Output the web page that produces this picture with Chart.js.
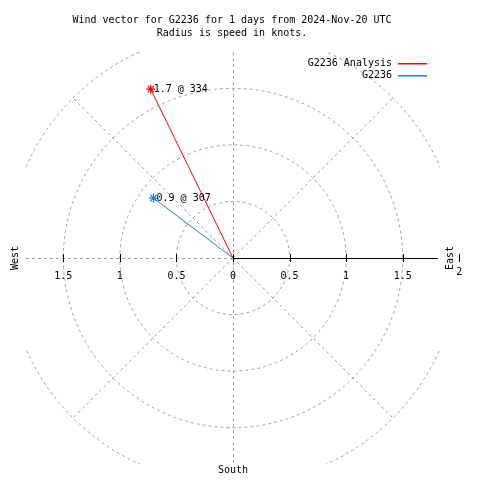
<!DOCTYPE html>
<html lang="en">
<head>
    <meta charset="UTF-8">
    <title>Wind vector G2236</title>
    <script src="https://cdn.jsdelivr.net/npm/chart.js"></script>
    <style>
        html, body { margin: 0; padding: 0; background: #fff; }
        #wrap { width: 480px; height: 480px; }
    </style>
</head>
<body>
    <div id="wrap"><canvas id="wind-chart" width="480" height="480"></canvas></div>

    <script>
        // data
        const seriesNames = ['G2236 Analysis', 'G2236'];
        const seriesColors = ['#ff0000', '#1e7fe0'];
        const speeds = [1.66, 0.88];        // knots (labels show one decimal)
        const directions = [334, 307];      // degrees
        const ringValues = [0.5, 1, 1.5, 2];
        const tickValues = [0, 0.5, 1, 1.5];
        const tickLabels = ['0', '0.5', '1', '1.5'];
        const titleLines = ['Wind vector for G2236 for 1 days from 2024-Nov-20 UTC', 'Radius is speed in knots.'];

        const FONT = '10px "DejaVu Sans Mono", monospace';
        const GRID = '#a0a0a0';

        const datasets = seriesNames.map((name, i) => {
            const rad = directions[i] * Math.PI / 180;
            return {
                label: name,
                data: [{ x: 0, y: 0 }, { x: speeds[i] * Math.sin(rad), y: speeds[i] * Math.cos(rad) }],
                showLine: true,
                borderColor: seriesColors[i],
                backgroundColor: seriesColors[i],
                borderWidth: 1,
                pointStyle: 'star',
                pointRadius: [0, 4.5],
                pointBorderWidth: 1.2,
                pointBorderColor: seriesColors[i]
            };
        });

        const polarPlugin = {
            id: 'polarGrid',
            beforeDatasetsDraw(chart) {
                const ctx = chart.ctx, a = chart.chartArea;
                const xs = chart.scales.x, ys = chart.scales.y;
                const cx = xs.getPixelForValue(0), cy = ys.getPixelForValue(0);
                const unit = xs.getPixelForValue(1) - cx;

                ctx.save();
                ctx.beginPath();
                ctx.rect(a.left, a.top, a.right - a.left, a.bottom - a.top);
                ctx.clip();
                ctx.strokeStyle = GRID;
                ctx.lineWidth = 1;
                ctx.setLineDash([3, 3]);

                ringValues.forEach(r => {
                    ctx.beginPath();
                    ctx.arc(cx, cy, r * unit, 0, Math.PI * 2);
                    ctx.stroke();
                });

                // spokes
                const rMax = ringValues[ringValues.length - 1] * unit;
                [45, 135, 225, 315].forEach(deg => {
                    const t = deg * Math.PI / 180;
                    ctx.beginPath();
                    ctx.moveTo(cx, cy);
                    ctx.lineTo(cx + rMax * Math.sin(t), cy - rMax * Math.cos(t));
                    ctx.stroke();
                });
                ctx.beginPath();
                ctx.moveTo(Math.round(cx) + 0.5, a.top);
                ctx.lineTo(Math.round(cx) + 0.5, a.bottom);
                ctx.stroke();
                ctx.beginPath();
                ctx.moveTo(a.left, Math.round(cy) + 0.5);
                ctx.lineTo(cx, Math.round(cy) + 0.5);
                ctx.stroke();
                ctx.restore();

                // solid east axis with ticks
                ctx.save();
                ctx.strokeStyle = '#000';
                ctx.lineWidth = 1;
                ctx.beginPath();
                ctx.moveTo(cx, Math.round(cy) + 0.5);
                ctx.lineTo(a.right - 2, Math.round(cy) + 0.5);
                ctx.stroke();
                ctx.beginPath();
                tickValues.concat([2]).forEach(v => {
                    [v, -v].forEach(s => {
                        if (v === 2 && s < 0) return;
                        const px = Math.round(xs.getPixelForValue(s)) + 0.5;
                        ctx.moveTo(px, cy - 4);
                        ctx.lineTo(px, cy + 4);
                    });
                });
                ctx.stroke();

                ctx.fillStyle = '#000';
                ctx.font = FONT;
                ctx.textAlign = 'center';
                ctx.textBaseline = 'middle';
                tickValues.forEach((v, i) => {
                    ctx.fillText(tickLabels[i], xs.getPixelForValue(-v), cy + 18);
                    if (v > 0) ctx.fillText(tickLabels[i], xs.getPixelForValue(v), cy + 18);
                });
                ctx.fillText('2', xs.getPixelForValue(2), cy + 14);
                ctx.fillText('South', cx, 470);

                ctx.save();
                ctx.translate(15, cy);
                ctx.rotate(-Math.PI / 2);
                ctx.fillText('West', 0, 0);
                ctx.restore();
                ctx.save();
                ctx.translate(450, cy);
                ctx.rotate(-Math.PI / 2);
                ctx.fillText('East', 0, 0);
                ctx.restore();

                // title
                ctx.fillText(titleLines[0], 232, 20);
                ctx.fillText(titleLines[1], 232, 33);
                ctx.restore();
            },
            afterDatasetsDraw(chart) {
                const ctx = chart.ctx;
                ctx.save();
                ctx.font = FONT;
                ctx.textBaseline = 'middle';
                chart.data.datasets.forEach((ds, i) => {
                    const p = chart.getDatasetMeta(i).data[1];
                    ctx.fillStyle = '#000';
                    ctx.textAlign = 'left';
                    ctx.fillText(speeds[i].toFixed(1) + ' @ ' + directions[i], p.x + 3, p.y);
                    // legend, top right
                    const ly = 63 + i * 12;
                    ctx.textAlign = 'right';
                    ctx.fillText(ds.label, 392, ly);
                    ctx.fillStyle = seriesColors[i];
                    ctx.fillRect(398, ly, 29, 1.5);
                });
                ctx.restore();
            }
        };

        new Chart(document.getElementById('wind-chart'), {
            type: 'scatter',
            data: { datasets: datasets },
            options: {
                responsive: false,
                animation: false,
                layout: { padding: { left: 26, right: 40, top: 52, bottom: 16 } },
                scales: {
                    x: { type: 'linear', min: -1.83, max: 1.83, display: false },
                    y: { type: 'linear', min: -1.82, max: 1.82, display: false }
                },
                plugins: {
                    legend: { display: false },
                    tooltip: { enabled: false }
                }
            },
            plugins: [polarPlugin]
        });
    </script>
</body>
</html>
